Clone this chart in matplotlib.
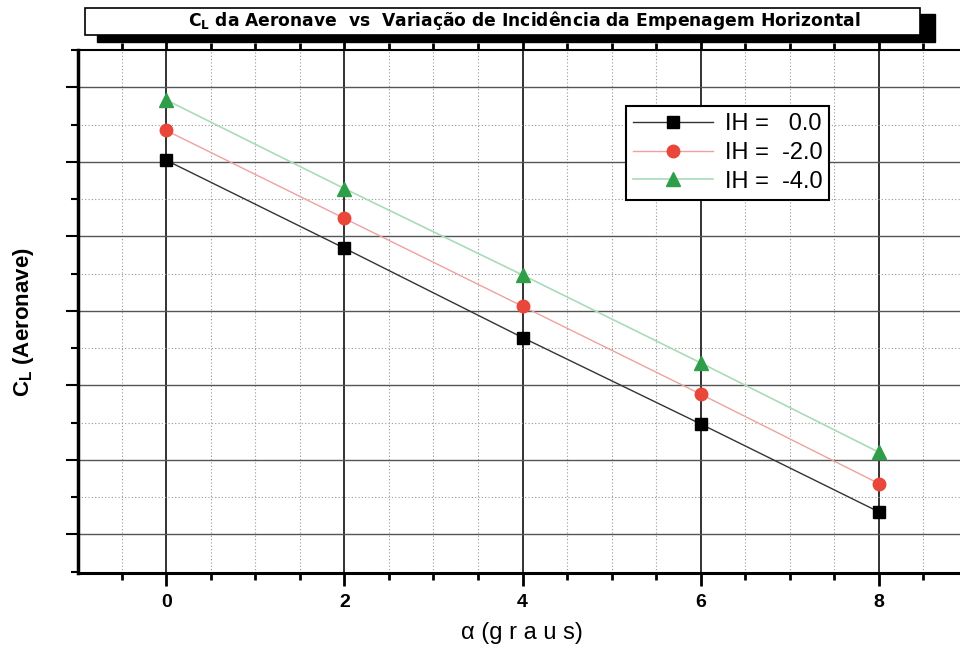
import matplotlib.pyplot as plt
from matplotlib.patches import Rectangle
from matplotlib.ticker import MultipleLocator

plt.rcParams['font.family'] = ['Liberation Sans', 'DejaVu Sans']

# dados (C_L em unidades arbitrarias, eixo y sem rotulos)
alpha = [0, 2, 4, 6, 8]
cl_ih0 = [0.702, 0.584, 0.464, 0.348, 0.230]
cl_ih2 = [0.742, 0.624, 0.506, 0.388, 0.268]
cl_ih4 = [0.783, 0.664, 0.548, 0.430, 0.310]
labels = ['IH =   0.0', 'IH =  -2.0', 'IH =  -4.0']

fig = plt.figure(figsize=(9.6, 6.51), dpi=100)
ax = fig.add_axes([78/960, 1 - 573/651, 1 - 78/960, (573 - 50)/651])

ax.plot(alpha, cl_ih0, color='#333333', lw=1.0, marker='s', ms=8,
        mfc='black', mec='black', label=labels[0], zorder=5)
ax.plot(alpha, cl_ih2, color='#f0a0a0', lw=1.0, marker='o', ms=9,
        mfc='#e8473a', mec='#e8473a', label=labels[1], zorder=5)
ax.plot(alpha, cl_ih4, color='#a8dcb8', lw=1.2, marker='^', ms=10,
        mfc='#2e9e48', mec='#2e9e48', label=labels[2], zorder=5)

ax.set_xlim(-0.99, 8.91)
ax.set_ylim(0.148, 0.850)

ax.xaxis.set_major_locator(MultipleLocator(2))
ax.xaxis.set_minor_locator(MultipleLocator(0.5))
ax.yaxis.set_major_locator(MultipleLocator(0.1))
ax.yaxis.set_minor_locator(MultipleLocator(0.05))

ax.grid(which='major', axis='x', color='#222222', lw=1.3, ls='-')
ax.grid(which='major', axis='y', color='#555555', lw=1.0, ls='-')
ax.grid(which='minor', color='#999999', lw=0.8, ls=(0, (1, 2)))
ax.set_axisbelow(True)

ax.tick_params(axis='x', which='major', direction='out', length=9, width=2,
               top=True, labelsize=14, pad=6)
ax.tick_params(axis='x', which='minor', direction='out', length=5, width=2, top=True)
ax.tick_params(axis='y', which='major', direction='out', length=9, width=1.5,
               labelleft=False)
ax.tick_params(axis='y', which='minor', direction='out', length=5, width=1.5)
for lab in ax.get_xticklabels():
    lab.set_fontweight('bold')

ax.spines['left'].set_linewidth(2.5)
ax.spines['bottom'].set_linewidth(2.2)
ax.spines['top'].set_linewidth(1.5)
ax.spines['right'].set_visible(False)

# rotulos dos eixos em posicao fixa
fig.text(522/960, 1 - 633/651, 'α (g r a u s)', fontsize=17,
         ha='center', va='center')
fig.text(24/960, 1 - 322/651, r'$\mathregular{C_L}$ (Aeronave)', fontsize=16,
         fontweight='bold', rotation=90, ha='center', va='center')

leg = ax.legend(loc='upper left', bbox_to_anchor=(0.6075, 0.915), fontsize=17,
                frameon=True, fancybox=False, edgecolor='black', framealpha=1,
                handlelength=3.4, borderpad=0.3, labelspacing=0.28, handletextpad=0.5)
leg.get_frame().set_linewidth(1.5)

# caixa do titulo com sombra
fig.patches.append(Rectangle((97/960, 1 - 42/651), 838/960, 28/651,
                             transform=fig.transFigure, color='black', zorder=1))
fig.patches.append(Rectangle((85/960, 1 - 35/651), 835/960, 27/651,
                             transform=fig.transFigure, facecolor='white',
                             edgecolor='black', lw=1.2, zorder=2))
fig.text(524/960, 1 - 21/651,
         r'$\mathregular{C_L}$ da Aeronave  vs  Variação de Incidência da Empenagem Horizontal',
         ha='center', va='center', fontsize=12.3, fontweight='bold', zorder=3,
         family=['DejaVu Sans'])

fig.savefig('out.png', dpi=100)
